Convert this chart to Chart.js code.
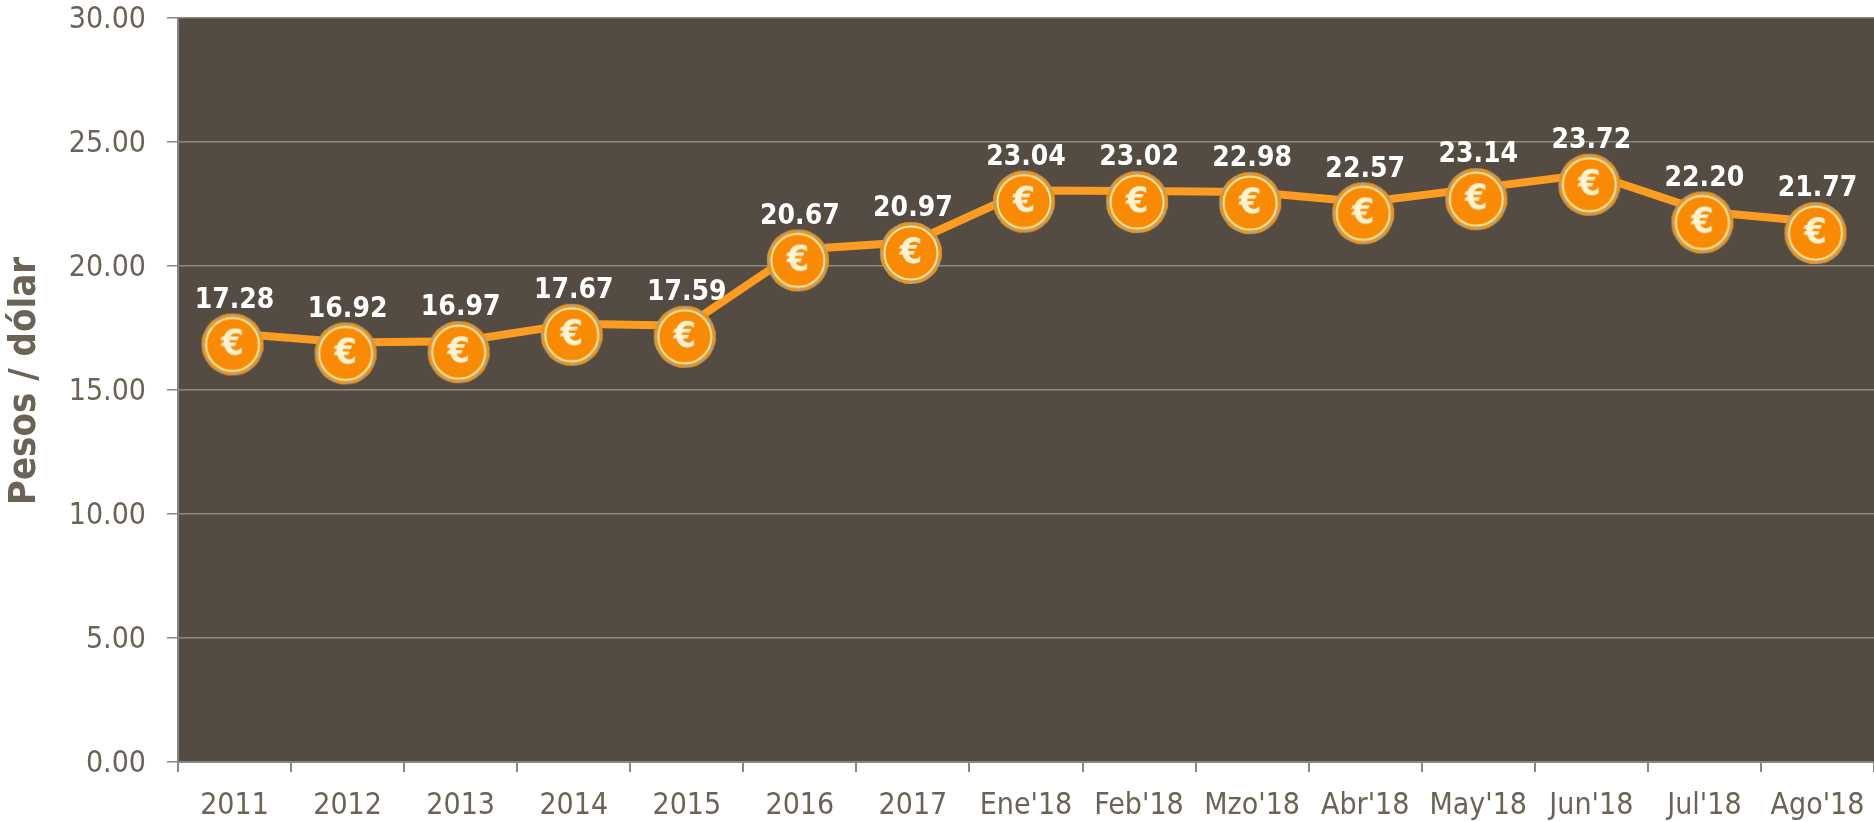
<!DOCTYPE html>
<html>
<head>
<meta charset="utf-8">
<title>Pesos / dólar</title>
<style>
  html, body { margin: 0; padding: 0; background: #fff; overflow: hidden; }
  #wrap { width: 1874px; height: 822px; }
</style>
<script src="https://cdn.jsdelivr.net/npm/chart.js@4/dist/chart.umd.min.js"></script>
</head>
<body>
<div id="wrap"><canvas id="grafica"></canvas></div>
<script>
const categories = ["2011", "2012", "2013", "2014", "2015", "2016", "2017", "Ene'18", "Feb'18", "Mzo'18", "Abr'18", "May'18", "Jun'18", "Jul'18", "Ago'18"];
const tipoCambio = [17.28, 16.92, 16.97, 17.67, 17.59, 20.67, 20.97, 23.04, 23.02, 22.98, 22.57, 23.14, 23.72, 22.20, 21.77];
const yTicks = [0, 5, 10, 15, 20, 25, 30];
const yTitle = "Pesos / dólar";

const fontFamily = "'DejaVu Sans Condensed', 'DejaVu Sans', sans-serif";
const grayText = "#6b6456";

// coin marker, drawn a bit below and left of the real point like in the original
function makeCoin() {
  const size = 100;
  const cx = size / 2 - 2;
  const cy = size / 2 + 11;
  const c = document.createElement("canvas");
  c.width = size;
  c.height = size;
  const g = c.getContext("2d");

  g.fillStyle = "#c99a5c";
  g.beginPath();
  g.arc(cx, cy, 31, 0, Math.PI * 2);
  g.fill();

  g.strokeStyle = "#ef9312";
  g.lineWidth = 3;
  g.setLineDash([7, 9]);
  g.beginPath();
  g.arc(cx, cy, 29.5, 0, Math.PI * 2);
  g.stroke();
  g.setLineDash([]);

  g.fillStyle = "#f98a05";
  g.beginPath();
  g.arc(cx, cy, 26, 0, Math.PI * 2);
  g.fill();

  g.strokeStyle = "#ffe596";
  g.lineWidth = 2;
  g.beginPath();
  g.arc(cx, cy, 26.5, 0, Math.PI * 2);
  g.stroke();

  g.fillStyle = "#fff3d2";
  g.font = "bold 36px " + fontFamily;
  g.textAlign = "center";
  g.textBaseline = "middle";
  g.fillText("€", cx, cy + 1);
  return c;
}

const plotBackground = {
  id: "plotBackground",
  beforeDraw(chart) {
    const a = chart.chartArea;
    const ctx = chart.ctx;
    ctx.save();
    ctx.fillStyle = "#544c42";
    ctx.fillRect(a.left, a.top, a.right - a.left, a.bottom - a.top);
    ctx.restore();
  }
};

const valueLabels = {
  id: "valueLabels",
  afterDatasetsDraw(chart) {
    const ctx = chart.ctx;
    const points = chart.getDatasetMeta(0).data;
    ctx.save();
    ctx.fillStyle = "#fff";
    ctx.font = "bold 28px " + fontFamily;
    ctx.textAlign = "center";
    ctx.textBaseline = "middle";
    points.forEach((p, i) => {
      ctx.fillText(tipoCambio[i].toFixed(2), p.x, p.y - 33);
    });
    ctx.restore();
  }
};

// the title sits a bit above the middle of the plot, scale title can't do that
const axisTitle = {
  id: "axisTitle",
  afterDraw(chart) {
    const a = chart.chartArea;
    const ctx = chart.ctx;
    ctx.save();
    ctx.translate(25, (a.top + a.bottom) / 2 - 9);
    ctx.rotate(-Math.PI / 2);
    ctx.fillStyle = grayText;
    ctx.font = "bold 38px " + fontFamily;
    ctx.textAlign = "center";
    ctx.textBaseline = "middle";
    ctx.fillText(yTitle, 0, 0);
    ctx.restore();
  }
};

const ctx = document.getElementById("grafica").getContext("2d");

new Chart(ctx, {
  type: "line",
  data: {
    labels: categories,
    datasets: [
      {
        label: yTitle,
        data: tipoCambio,
        borderColor: "#fd9c22",
        borderWidth: 8,
        tension: 0,
        fill: false,
        clip: false,
        pointStyle: makeCoin(),
        pointRadius: 1,
      },
    ],
  },
  options: {
    responsive: true,
    maintainAspectRatio: false,
    animation: false,
    layout: { autoPadding: false, padding: { top: 18, right: 0, bottom: 0, left: 0 } },
    plugins: {
      legend: { display: false },
      tooltip: { enabled: false },
    },
    scales: {
      x: {
        offset: true,
        afterFit(scale) {
          scale.height = 60;
          scale.paddingLeft = 0;
          scale.paddingRight = 0;
        },
        grid: {
          offset: true,
          drawOnChartArea: false,
          drawTicks: true,
          tickLength: 10,
          color: "#868686",
          lineWidth: 2,
        },
        border: { color: "#868686", width: 2 },
        ticks: {
          color: grayText,
          font: { family: fontFamily, size: 30 },
          padding: 16,
          maxRotation: 0,
          autoSkip: false,
        },
      },
      y: {
        min: 0,
        max: 30,
        afterFit(scale) {
          scale.width = 178;
          scale.paddingTop = 0;
          scale.paddingBottom = 0;
        },
        afterBuildTicks(scale) { scale.ticks = yTicks.map((v) => ({ value: v })); },
        grid: {
          color: "#8e897f",
          lineWidth: 1.5,
          tickLength: 11,
          tickColor: "#868686",
        },
        border: { color: "#868686", width: 2 },
        ticks: {
          color: grayText,
          font: { family: fontFamily, size: 30 },
          padding: 21,
          labelOffset: 2,
          callback: (v) => v.toFixed(2),
        },
      },
    },
  },
  plugins: [plotBackground, valueLabels, axisTitle],
});
</script>
</body>
</html>
